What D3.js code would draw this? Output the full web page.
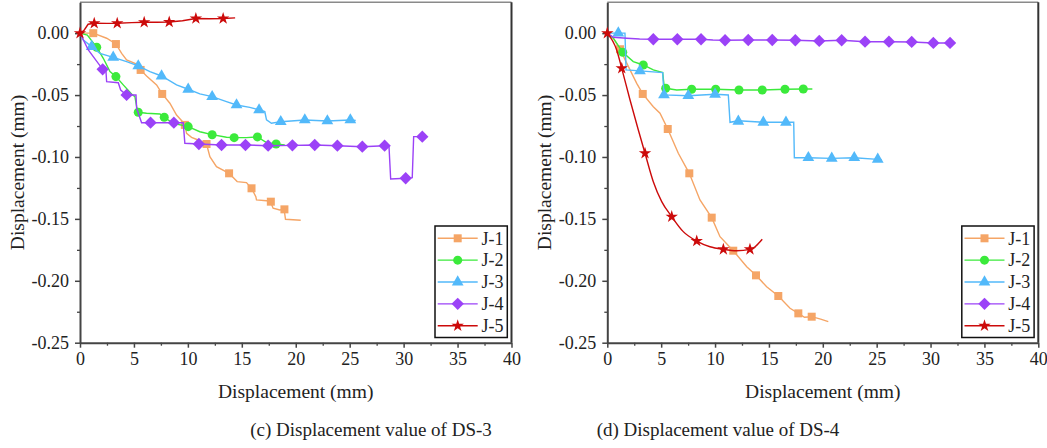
<!DOCTYPE html>
<html>
<head>
<meta charset="utf-8">
<script src="https://cdn.jsdelivr.net/npm/d3@7"></script>
<style>
body { margin: 0; background: #fff; }
text { font-family: "Liberation Serif", "Times New Roman", serif; fill: #222; }
</style>
</head>
<body>
<div id="chart"></div>
<script>
// series names + colours
const seriesNames = ["J-1", "J-2", "J-3", "J-4", "J-5"];
const seriesColors = ["#F5A566", "#3BEA3B", "#52B9FA", "#9B42F7", "#CC0A0A"];
const xTicks = [0, 5, 10, 15, 20, 25, 30, 35, 40];
const yTicks = [0, -0.05, -0.10, -0.15, -0.20, -0.25];

// ---- DS-3 (panel c) ----
const ds3_J1_line = [[0,0],[1.23,0],[2.47,-0.0041],[3.33,-0.0087],[3.86,-0.0163],[4.32,-0.0216],[5.25,-0.0249],[5.62,-0.0297],[6.17,-0.0346],[7.10,-0.0418],[7.62,-0.0491],[8.33,-0.0566],[8.95,-0.0661],[9.51,-0.0715],[9.72,-0.0741],[9.88,-0.0809],[10.34,-0.0841],[10.95,-0.0863],[11.73,-0.0895],[12.04,-0.0998],[12.65,-0.1078],[13.82,-0.1132],[14.57,-0.1199],[15.43,-0.1207],[15.90,-0.1253],[16.30,-0.1321],[16.36,-0.1347],[17.29,-0.1353],[17.66,-0.1361],[17.90,-0.1414],[18.52,-0.1428],[18.92,-0.1423],[19.05,-0.1503],[20.46,-0.1511]];
const ds3_J1_marks = [[1.23,0],[3.33,-0.0088],[5.62,-0.0297],[7.62,-0.0491],[9.72,-0.0741],[11.73,-0.0895],[13.82,-0.1132],[15.90,-0.1253],[17.69,-0.1361],[18.95,-0.1423]];
const ds3_J2_line = [[0,0],[0.68,-0.0015],[1.55,-0.0114],[2.16,-0.0203],[2.78,-0.0311],[3.33,-0.0351],[4.01,-0.0418],[4.78,-0.0491],[5.09,-0.0513],[5.25,-0.0594],[5.40,-0.0639],[6.17,-0.0647],[7.41,-0.0653],[7.81,-0.0679],[8.64,-0.0728],[10.03,-0.0755],[11.11,-0.0796],[12.25,-0.0820],[13.58,-0.0841],[14.29,-0.0844],[15.43,-0.0844],[16.45,-0.0838],[17.29,-0.0884],[18.18,-0.0895],[18.98,-0.0903]];
const ds3_J2_marks = [[1.55,-0.0114],[3.33,-0.0351],[5.40,-0.0639],[7.81,-0.0679],[10.03,-0.0755],[12.25,-0.0820],[14.29,-0.0844],[16.45,-0.0838],[18.18,-0.0895]];
const ds3_J3_line = [[0,0],[0.31,-0.0055],[1.08,-0.0109],[1.85,-0.0163],[3.08,-0.0195],[4.32,-0.0230],[5.40,-0.0265],[6.48,-0.0311],[7.56,-0.0346],[8.95,-0.0418],[10.03,-0.0453],[11.11,-0.0491],[12.25,-0.0513],[13.58,-0.0553],[14.51,-0.0580],[15.74,-0.0599],[16.60,-0.0620],[17.13,-0.0634],[17.29,-0.0701],[17.75,-0.0728],[18.61,-0.0715],[20.84,-0.0701],[22.93,-0.0709],[25.06,-0.0701],[25.56,-0.0706]];
const ds3_J3_marks = [[1.08,-0.0109],[3.08,-0.0195],[5.40,-0.0265],[7.56,-0.0346],[10.03,-0.0453],[12.25,-0.0513],[14.51,-0.0580],[16.60,-0.0620],[18.61,-0.0715],[20.84,-0.0701],[22.93,-0.0709],[25.06,-0.0701]];
const ds3_J4_line = [[0,0],[0.77,-0.0136],[2.10,-0.0292],[2.41,-0.0311],[2.47,-0.0392],[3.55,-0.0400],[3.77,-0.0459],[4.32,-0.0499],[5.19,-0.0499],[5.25,-0.0607],[5.71,-0.0723],[6.54,-0.0723],[8.70,-0.0723],[9.57,-0.0723],[9.72,-0.0889],[11.02,-0.0895],[13.12,-0.0903],[15.34,-0.0903],[17.44,-0.0909],[19.69,-0.0906],[21.76,-0.0903],[23.86,-0.0909],[26.17,-0.0917],[28.24,-0.0909],[28.64,-0.0909],[28.80,-0.1178],[30.19,-0.1172],[30.80,-0.1167],[30.93,-0.0836],[31.73,-0.0836]];
const ds3_J4_marks = [[2.10,-0.0292],[4.32,-0.0499],[6.54,-0.0723],[8.70,-0.0723],[11.02,-0.0895],[13.12,-0.0903],[15.34,-0.0903],[17.44,-0.0909],[19.69,-0.0906],[21.76,-0.0903],[23.86,-0.0909],[26.17,-0.0917],[28.24,-0.0909],[30.19,-0.1172],[31.73,-0.0836]];
const ds3_J5_line = [[0,0],[0.35,0.002],[0.75,0.0072],[1.32,0.0080],[2.5,0.0079],[3.45,0.0080],[4.8,0.0085],[5.95,0.0088],[7.1,0.0088],[8.27,0.0090],[9.5,0.0100],[10.74,0.0118],[12.0,0.0116],[13.27,0.0118],[14.38,0.0123]];
const ds3_J5_marks = [[0,0],[1.32,0.0080],[3.45,0.0080],[5.95,0.0088],[8.27,0.0090],[10.74,0.0118],[13.27,0.0118]];

// ---- DS-4 (panel d) ----
const ds4_J1_line = [[0,0],[0.56,-0.0041],[1.18,-0.0130],[2.11,-0.0297],[2.73,-0.0405],[3.29,-0.0491],[4.27,-0.0594],[4.89,-0.0647],[5.61,-0.0774],[6.59,-0.0970],[7.61,-0.1132],[8.60,-0.1347],[9.69,-0.1490],[10.46,-0.1644],[11.69,-0.1757],[12.94,-0.1886],[13.80,-0.1956],[14.79,-0.2048],[15.87,-0.2123],[16.96,-0.2222],[17.73,-0.2263],[18.3,-0.2295],[18.97,-0.2290],[19.8,-0.2310],[20.51,-0.2330]];
const ds4_J1_marks = [[1.18,-0.0130],[3.29,-0.0491],[5.61,-0.0774],[7.61,-0.1132],[9.69,-0.1490],[11.69,-0.1757],[13.80,-0.1956],[15.87,-0.2123],[17.73,-0.2263],[18.97,-0.2290]];
const ds4_J2_line = [[0,0],[0.56,-0.0041],[1.43,-0.0154],[2.41,-0.0230],[3.34,-0.0257],[4.27,-0.0297],[5.14,-0.0319],[5.26,-0.0418],[5.42,-0.0445],[6.44,-0.0459],[7.83,-0.0453],[10.06,-0.0453],[12.22,-0.0459],[14.38,-0.0459],[16.49,-0.0453],[18.19,-0.0451],[19.03,-0.0451]];
const ds4_J2_marks = [[1.43,-0.0154],[3.34,-0.0257],[5.42,-0.0445],[7.83,-0.0453],[10.06,-0.0453],[12.22,-0.0459],[14.38,-0.0459],[16.49,-0.0453],[18.19,-0.0451]];
const ds4_J3_line = [[0,0],[1.02,0],[1.64,0],[1.74,-0.0297],[2.73,-0.0303],[3.03,-0.0305],[5.14,-0.0319],[5.26,-0.0499],[7.52,-0.0505],[10.0,-0.0494],[11.23,-0.0499],[11.39,-0.0720],[12.16,-0.0707],[14.48,-0.0720],[16.58,-0.0720],[17.30,-0.0720],[17.36,-0.1006],[18.66,-0.1006],[20.83,-0.1011],[22.92,-0.1006],[25.10,-0.1019],[25.47,-0.1024]];
const ds4_J3_marks = [[1.02,0],[3.03,-0.0305],[5.26,-0.0499],[7.52,-0.0505],[10.0,-0.0494],[12.16,-0.0712],[14.48,-0.0720],[16.58,-0.0720],[18.66,-0.1006],[20.83,-0.1011],[22.92,-0.1006],[25.10,-0.1019]];
const ds4_J4_line = [[0,0],[0.56,-0.0033],[1.80,-0.0041],[3.0,-0.0047],[4.27,-0.0049],[6.50,-0.0049],[8.70,-0.0049],[9.8,-0.0055],[10.93,-0.0057],[13.08,-0.0055],[15.31,-0.0055],[17.45,-0.0057],[19.67,-0.0063],[21.75,-0.0057],[23.92,-0.0069],[26.14,-0.0069],[28.25,-0.0071],[30.26,-0.0079],[31.81,-0.0079]];
const ds4_J4_marks = [[4.27,-0.0049],[6.50,-0.0049],[8.70,-0.0049],[10.93,-0.0057],[13.08,-0.0055],[15.31,-0.0055],[17.45,-0.0057],[19.67,-0.0063],[21.75,-0.0057],[23.92,-0.0069],[26.14,-0.0069],[28.25,-0.0071],[30.26,-0.0079],[31.81,-0.0079]];
const ds4_J5_line = [[0,0],[0.87,-0.0136],[1.34,-0.0284],[2.11,-0.0540],[2.88,-0.0782],[3.50,-0.0970],[4.27,-0.1200],[5.05,-0.1361],[5.98,-0.1482],[7.05,-0.1603],[8.30,-0.1679],[9.53,-0.1725],[10.77,-0.1746],[12.01,-0.1757],[13.24,-0.1746],[13.71,-0.1725],[14.38,-0.1665]];
const ds4_J5_marks = [[0,0],[1.34,-0.0284],[3.50,-0.0970],[5.98,-0.1482],[8.30,-0.1679],[10.77,-0.1746],[13.24,-0.1746]];

const W = 1047, H = 448;
const plotTop = 2.2, plotBottom = 342.7;

const panels = [
    { left: 80, right: 511.5, caption: "(c) Displacement value of DS-3", capX: 371,
      lines: [ds3_J1_line, ds3_J2_line, ds3_J3_line, ds3_J4_line, ds3_J5_line],
      marks: [ds3_J1_marks, ds3_J2_marks, ds3_J3_marks, ds3_J4_marks, ds3_J5_marks] },
    { left: 607.3, right: 1038.3, caption: "(d) Displacement value of DS-4", capX: 718,
      lines: [ds4_J1_line, ds4_J2_line, ds4_J3_line, ds4_J4_line, ds4_J5_line],
      marks: [ds4_J1_marks, ds4_J2_marks, ds4_J3_marks, ds4_J4_marks, ds4_J5_marks] }
];

// marker shapes
const diamond = { draw(ctx, size) { const r = Math.sqrt(size / 2); ctx.moveTo(0, -r); ctx.lineTo(r, 0); ctx.lineTo(0, r); ctx.lineTo(-r, 0); ctx.closePath(); } };
const shapes = [
    d3.symbol(d3.symbolSquare, 64),
    d3.symbol(d3.symbolCircle, 64),
    d3.symbol(d3.symbolTriangle, 60),
    d3.symbol(diamond, 76),
    d3.symbol(d3.symbolStar, 48)
];

const svg = d3.select("#chart").append("svg")
    .attr("width", W)
    .attr("height", H);

panels.forEach(function(p, pi) {
    var x = d3.scaleLinear().domain([0, 40]).range([p.left, p.right]);
    var y = d3.scaleLinear().domain([-0.25, 0.025]).range([plotBottom, plotTop]);
    var g = svg.append("g");

    // frame top/right
    g.append("line").attr("x1", p.left).attr("x2", p.right).attr("y1", plotTop).attr("y2", plotTop)
        .attr("stroke", "#8a8a8a").attr("stroke-width", 1.5);
    g.append("line").attr("x1", p.right).attr("x2", p.right).attr("y1", plotTop).attr("y2", plotBottom)
        .attr("stroke", "#333").attr("stroke-width", 2);

    // minor ticks
    var minorX = g.append("g").attr("transform", "translate(0," + plotBottom + ")")
        .call(d3.axisBottom(x).tickValues(d3.range(2.5, 40, 5)).tickSize(3).tickFormat(""));
    var minorY = g.append("g").attr("transform", "translate(" + p.left + ",0)")
        .call(d3.axisLeft(y).tickValues(d3.range(-0.225, 0.01, 0.05)).tickSize(3).tickFormat(""));
    [minorX, minorY].forEach(function(a) {
        a.select(".domain").remove();
        a.selectAll("line").attr("stroke", "#444").attr("stroke-width", 1.3);
    });

    var xAxis = g.append("g").attr("transform", "translate(0," + plotBottom + ")")
        .call(d3.axisBottom(x).tickValues(xTicks).tickSize(5).tickSizeOuter(0).tickPadding(5));
    var yAxis = g.append("g").attr("transform", "translate(" + p.left + ",0)")
        .call(d3.axisLeft(y).tickValues(yTicks).tickSize(5).tickSizeOuter(0).tickPadding(6)
            .tickFormat(function(d) { return d.toFixed(2); }));
    [xAxis, yAxis].forEach(function(a) {
        a.select(".domain").attr("stroke", "#444").attr("stroke-width", 2);
        a.selectAll(".tick line").attr("stroke", "#444").attr("stroke-width", 1.5);
        a.selectAll("text").attr("font-size", "18px")
            .attr("font-family", "Liberation Serif, serif").attr("fill", "#222");
    });

    // series
    seriesNames.forEach(function(name, i) {
        var line = d3.line()
            .x(function(d) { return x(d[0]); })
            .y(function(d) { return y(d[1]); })
            .curve(pi === 1 && i === 4 ? d3.curveMonotoneX : d3.curveLinear);
        g.append("path").datum(p.lines[i])
            .attr("d", line)
            .attr("fill", "none")
            .attr("stroke", seriesColors[i])
            .attr("stroke-width", 1.4);
        g.append("g").selectAll("path")
            .data(p.marks[i])
            .enter().append("path")
            .attr("d", shapes[i])
            .attr("transform", function(d) { return "translate(" + x(d[0]) + "," + y(d[1]) + ")"; })
            .attr("fill", seriesColors[i]);
    });

    // axis titles
    g.append("text")
        .attr("x", (p.left + p.right) / 2).attr("y", 398)
        .attr("text-anchor", "middle").attr("font-size", "19.5px")
        .text("Displacement (mm)");
    g.append("text")
        .attr("transform", "translate(" + (p.left - 56) + "," + ((plotTop + plotBottom) / 2) + ") rotate(-90)")
        .attr("text-anchor", "middle").attr("font-size", "19.5px")
        .text("Displacement (mm)");

    // caption
    g.append("text")
        .attr("x", p.capX).attr("y", 436)
        .attr("text-anchor", "middle").attr("font-size", "19px")
        .text(p.caption);

    // legend
    var lx = p.right - 76.5, ly = 226;
    var lg = g.append("g").attr("transform", "translate(" + lx + "," + ly + ")");
    lg.append("rect").attr("width", 72.3).attr("height", 111.5)
        .attr("fill", "#fff").attr("stroke", "#111").attr("stroke-width", 1.5);
    seriesNames.forEach(function(name, i) {
        var yy = 12.3 + i * 21.85;
        lg.append("line").attr("x1", 2.7).attr("x2", 42.7).attr("y1", yy).attr("y2", yy)
            .attr("stroke", seriesColors[i]).attr("stroke-width", 1.4);
        lg.append("path").attr("d", shapes[i])
            .attr("transform", "translate(22.7," + yy + ")")
            .attr("fill", seriesColors[i]);
        lg.append("text").attr("x", 46.5).attr("y", yy).attr("dy", "0.35em")
            .attr("font-size", "18px").text(name);
    });
});
</script>
</body>
</html>
